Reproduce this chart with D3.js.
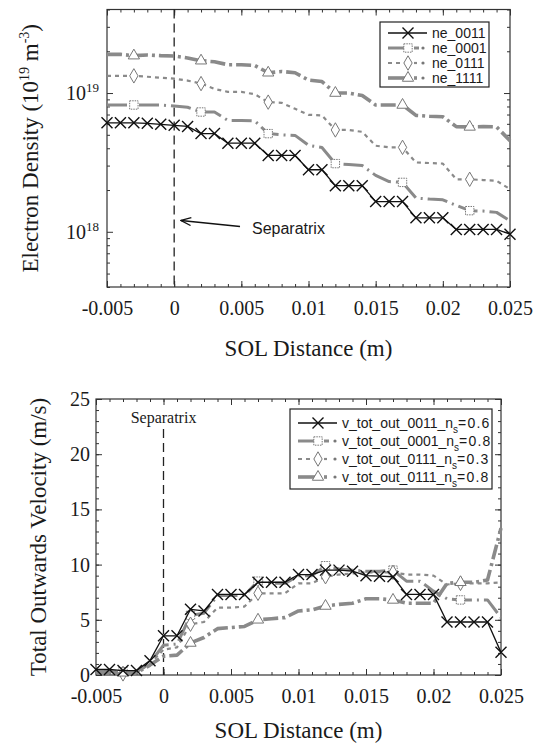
<!DOCTYPE html>
<html>
<head>
<meta charset="utf-8">
<script src="https://cdn.jsdelivr.net/npm/d3@7"></script>
<style>
  body { margin: 0; background: #fff; }
  svg text { fill: #1a1a1a; }
</style>
</head>
<body>
<svg id="fig" width="542" height="743"></svg>
<script>
// ---------------------------------------------------------------------------
// Data (31 radial grid points, 1 mm apart)
// ---------------------------------------------------------------------------
const solDist = [-0.005, -0.004, -0.003, -0.002, -0.001, 0, 0.001, 0.002, 0.003, 0.004,
  0.005, 0.006, 0.007, 0.008, 0.009, 0.010, 0.011, 0.012, 0.013, 0.014, 0.015,
  0.016, 0.017, 0.018, 0.019, 0.020, 0.021, 0.022, 0.023, 0.024, 0.025];

// electron density, m^-3
const ne_0011 = [6.1e18, 6.1e18, 6.1e18, 6.05e18, 5.95e18, 5.85e18, 5.75e18, 5.1e18, 5.1e18,
  4.35e18, 4.35e18, 4.35e18, 3.55e18, 3.55e18, 3.55e18, 2.8e18, 2.8e18, 2.15e18, 2.15e18,
  2.15e18, 1.65e18, 1.65e18, 1.65e18, 1.26e18, 1.26e18, 1.26e18, 1.04e18, 1.04e18, 1.04e18,
  1.04e18, 0.96e18];
const ne_0001 = [8.2e18, 8.2e18, 8.2e18, 8.2e18, 8.2e18, 8.05e18, 7.9e18, 7.3e18, 7.3e18,
  6.35e18, 6.35e18, 6.3e18, 5.1e18, 5.0e18, 4.95e18, 4.2e18, 4.05e18, 3.1e18, 3.05e18, 3.0e18,
  2.55e18, 2.3e18, 2.27e18, 1.75e18, 1.72e18, 1.7e18, 1.55e18, 1.42e18, 1.41e18, 1.38e18, 1.2e18];
const ne_0111 = [13.3e18, 13.3e18, 13.3e18, 13.1e18, 12.9e18, 12.7e18, 12.3e18, 11.7e18, 10.7e18,
  10.2e18, 10.2e18, 9.8e18, 8.6e18, 8.5e18, 7.7e18, 6.97e18, 6.9e18, 5.42e18, 5.42e18, 5.25e18,
  4.17e18, 4.06e18, 4.06e18, 3.16e18, 3.13e18, 3.1e18, 2.39e18, 2.39e18, 2.36e18, 2.33e18, 2.03e18];
const ne_1111 = [19.0e18, 19.0e18, 18.6e18, 18.8e18, 18.6e18, 18.5e18, 17.9e18, 17.1e18, 16.8e18,
  16.0e18, 16.0e18, 15.8e18, 14.0e18, 14.3e18, 14.0e18, 12.4e18, 12.1e18, 10.0e18, 10.0e18, 9.6e18,
  8.2e18, 8.2e18, 8.2e18, 6.9e18, 6.8e18, 6.75e18, 5.73e18, 5.7e18, 5.73e18, 5.7e18, 4.54e18];

// total outwards velocity, m/s
const v_0011 = [0.5, 0.5, 0.4, 0.4, 1.3, 3.55, 3.55, 5.95, 5.8, 7.3, 7.3, 7.3, 8.4, 8.4, 8.4,
  9.1, 9.1, 9.5, 9.5, 9.4, 9.0, 8.95, 8.9, 7.3, 7.3, 7.3, 4.8, 4.8, 4.8, 4.8, 2.05];
const v_0001 = [0.3, 0.3, 0.3, 0.3, 1.1, 2.7, 2.8, 5.4, 5.6, 7.2, 7.2, 7.2, 8.5, 8.3, 8.3,
  9.0, 9.0, 9.9, 9.6, 9.5, 9.4, 9.4, 9.5, 8.5, 8.5, 7.6, 6.9, 6.8, 6.8, 6.8, 5.2];
const v_0111_03 = [0.3, 0.3, 0.1, 0.2, 1.0, 2.3, 2.5, 4.6, 4.8, 6.1, 6.1, 6.2, 7.4, 7.4, 7.4,
  8.3, 8.3, 8.9, 9.1, 9.2, 9.3, 9.3, 9.3, 9.1, 9.1, 9.0, 8.2, 8.3, 8.3, 8.3, 8.4];
const v_0111_08 = [0.2, 0.2, 0.2, 0.2, 0.9, 1.7, 1.8, 2.9, 3.4, 4.2, 4.3, 4.4, 5.0, 5.1, 5.2,
  5.8, 5.9, 6.25, 6.4, 6.5, 6.9, 6.9, 6.8, 6.5, 6.5, 6.5, 8.3, 8.4, 8.4, 8.6, 13.3];

const neNames = ["ne_0011", "ne_0001", "ne_0111", "ne_1111"];
const vNames = ["v_tot_out_0011_n", "v_tot_out_0001_n", "v_tot_out_0111_n", "v_tot_out_0111_n"];
const vNs = ["0.6", "0.8", "0.3", "0.8"];

const xTicks = [-0.005, 0, 0.005, 0.01, 0.015, 0.02, 0.025];
const xTickLabels = ["-0.005", "0", "0.005", "0.01", "0.015", "0.02", "0.025"];
const neTicks = [1e18, 1e19];
const neTickExp = ["18", "19"];
const vTicks = [0, 5, 10, 15, 20, 25];
const vTickLabels = ["0", "5", "10", "15", "20", "25"];

// marker positions on the grey curves (every 5th grid point)
const markIdx = [2, 7, 12, 17, 22, 27];

// ---------------------------------------------------------------------------
const SERIF = "'Liberation Serif','Times New Roman',serif";
const SANS = "'Liberation Sans',Arial,sans-serif";
const GREY = "#8a8a8a";

const STYLES = [
  { color: "#111", width: 1.3, dash: null, marker: "x", every: true },
  { color: GREY, width: 3, dash: "20,5,2,5", marker: "square" },
  { color: GREY, width: 2.2, dash: "4,4", marker: "diamond" },
  { color: GREY, width: 3.6, dash: "15,4,3,4", marker: "triangle" },
];

const svg = d3.select("#fig");
const defs = svg.append("defs");
// open arrow head, tip at the end of the line
defs.append("marker").attr("id", "arrow")
  .attr("viewBox", "0 0 12 10").attr("refX", 11).attr("refY", 5)
  .attr("markerWidth", 12).attr("markerHeight", 10).attr("markerUnits", "userSpaceOnUse")
  .attr("orient", "auto")
  .append("path").attr("d", "M1,1 L11,5 L1,9").attr("fill", "none")
  .attr("stroke", "#111").attr("stroke-width", 1.3);

function symbolPath(kind) {
  if (kind === "x") return "M-5.5,-5.5L5.5,5.5M-5.5,5.5L5.5,-5.5";
  if (kind === "square") return d3.symbol(d3.symbolSquare, 70)();
  if (kind === "diamond") return d3.symbol(d3.symbolDiamond, 60)();
  return d3.symbol(d3.symbolTriangle, 55)();
}

function drawMarker(g, kind, tx, ty) {
  const p = g.append("path").attr("transform", `translate(${tx},${ty})`).attr("d", symbolPath(kind));
  if (kind === "x") p.attr("fill", "none").attr("stroke", "#111").attr("stroke-width", 1.4);
  else p.attr("fill", "#fff").attr("stroke", "#777").attr("stroke-width", 1)
    .attr("stroke-dasharray", kind === "square" ? "1.5,1" : null);
}

function drawSeries(g, x, y, vals, st) {
  const line = d3.line().x((d, i) => x(solDist[i])).y(d => y(d));
  g.append("path").attr("d", line(vals)).attr("fill", "none")
    .attr("stroke", st.color).attr("stroke-width", st.width)
    .attr("stroke-dasharray", st.dash).attr("stroke-linejoin", "round");
  const idx = st.every ? vals.map((_, i) => i) : markIdx;
  idx.forEach(i => drawMarker(g, st.marker, x(solDist[i]), y(vals[i])));
}

function styleAxis(g, font, size) {
  g.select(".domain").remove();
  g.selectAll(".tick line").attr("stroke", "#333").attr("stroke-width", 1);
  g.selectAll("text").attr("font-family", font).attr("font-size", size).attr("fill", "#1a1a1a");
}

function frameAndXAxes(g, box, x) {
  g.append("rect").attr("x", box.x0).attr("y", box.y0)
    .attr("width", box.x1 - box.x0).attr("height", box.y1 - box.y0)
    .attr("fill", "none").attr("stroke", "#333").attr("stroke-width", 1.2);
  const minor = x.ticks(30);
  g.append("g").attr("transform", `translate(0,${box.y1})`)
    .call(d3.axisBottom(x).tickValues(minor).tickFormat("").tickSize(-3)).call(styleAxis, SERIF, 20);
  g.append("g").attr("transform", `translate(0,${box.y0})`)
    .call(d3.axisTop(x).tickValues(minor).tickFormat("").tickSize(-3)).call(styleAxis, SERIF, 20);
  g.append("g").attr("transform", `translate(0,${box.y1})`)
    .call(d3.axisBottom(x).tickValues(xTicks).tickFormat((d, i) => xTickLabels[i])
      .tickSize(-6).tickPadding(14)).call(styleAxis, SERIF, 20);
  g.append("g").attr("transform", `translate(0,${box.y0})`)
    .call(d3.axisTop(x).tickValues(xTicks).tickFormat("").tickSize(-6)).call(styleAxis, SERIF, 20);
}

function yAxes(g, box, y, major, minor, fmt) {
  g.append("g").attr("transform", `translate(${box.x0},0)`)
    .call(d3.axisLeft(y).tickValues(minor).tickFormat("").tickSize(-3)).call(styleAxis, SERIF, 20);
  g.append("g").attr("transform", `translate(${box.x1},0)`)
    .call(d3.axisRight(y).tickValues(minor).tickFormat("").tickSize(-3)).call(styleAxis, SERIF, 20);
  g.append("g").attr("transform", `translate(${box.x0},0)`)
    .call(d3.axisLeft(y).tickValues(major).tickFormat(fmt || "").tickSize(-6).tickPadding(6))
    .call(styleAxis, SERIF, 20);
  g.append("g").attr("transform", `translate(${box.x1},0)`)
    .call(d3.axisRight(y).tickValues(major).tickFormat("").tickSize(-6)).call(styleAxis, SERIF, 20);
}

function xTitle(g, box, yBase) {
  g.append("text").attr("x", (box.x0 + box.x1) / 2).attr("y", yBase)
    .attr("text-anchor", "middle").attr("font-family", SERIF).attr("font-size", 23)
    .text("SOL Distance (m)");
}

function legend(g, lb, rows) {
  g.append("rect").attr("x", lb.x).attr("y", lb.y).attr("width", lb.w).attr("height", lb.h)
    .attr("fill", "#fff").attr("stroke", "#222").attr("stroke-width", 1.2);
  rows.forEach((r, i) => {
    const cy = lb.y + lb.row0 + i * lb.dy;
    const st = STYLES[i];
    const lx0 = lb.x + 8, mx = lb.x + lb.mx;
    if (st.every) {
      g.append("line").attr("x1", lx0).attr("x2", lb.x + lb.lineEnd).attr("y1", cy).attr("y2", cy)
        .attr("stroke", st.color).attr("stroke-width", st.width);
    } else {
      g.append("line").attr("x1", lx0).attr("x2", mx - 2).attr("y1", cy).attr("y2", cy)
        .attr("stroke", st.color).attr("stroke-width", st.width)
        .attr("stroke-dasharray", st.marker === "diamond" ? "4,4" : null);
      g.append("line").attr("x1", mx + 6).attr("x2", mx + 11).attr("y1", cy).attr("y2", cy)
        .attr("stroke", st.color).attr("stroke-width", st.width)
        .attr("stroke-dasharray", st.marker === "square" ? null : "3,3");
      g.append("circle").attr("cx", lb.x + lb.dotX).attr("cy", cy).attr("r", 1.6).attr("fill", "#777");
    }
    drawMarker(g, st.marker, mx, cy);
    const t = g.append("text").attr("x", lb.x + lb.textX).attr("y", cy + 5)
      .attr("font-family", SANS).attr("font-size", 14);
    r(t);
  });
}

// ---------------------------------------------------------------------------
// Top panel: electron density (log)
// ---------------------------------------------------------------------------
const boxA = { x0: 107, x1: 510, y0: 9.5, y1: 287 };
const xA = d3.scaleLinear().domain([-0.005, 0.025]).range([boxA.x0, boxA.x1]);
const yA = d3.scaleLog().domain([4e17, 4e19]).range([boxA.y1, boxA.y0]);
const gA = svg.append("g");

frameAndXAxes(gA, boxA, xA);
yAxes(gA, boxA, yA, neTicks, yA.ticks().filter(v => !neTicks.includes(v)), null);

neTicks.forEach((v, i) => {
  const t = gA.append("text").attr("x", boxA.x0 - 8).attr("y", yA(v) + 7)
    .attr("text-anchor", "end").attr("font-family", SERIF).attr("font-size", 20);
  t.append("tspan").text("10");
  t.append("tspan").attr("dy", -8).attr("font-size", 13).text(neTickExp[i]);
});

// separatrix
gA.append("line").attr("x1", xA(0)).attr("x2", xA(0)).attr("y1", boxA.y0).attr("y2", boxA.y1)
  .attr("stroke", "#222").attr("stroke-width", 1.3).attr("stroke-dasharray", "9,5");
gA.append("line").attr("x1", 240).attr("y1", 226.5).attr("x2", 181).attr("y2", 220.5)
  .attr("stroke", "#111").attr("stroke-width", 1.3).attr("marker-end", "url(#arrow)");
gA.append("text").attr("x", 252).attr("y", 234).attr("font-family", SANS).attr("font-size", 16)
  .text("Separatrix");

[ne_0001, ne_0111, ne_1111].forEach((vals, k) => drawSeries(gA, xA, yA, vals, STYLES[k + 1]));
drawSeries(gA, xA, yA, ne_0011, STYLES[0]);

legend(gA, { x: 380, y: 22, w: 109, h: 65, row0: 11, dy: 15, mx: 28, lineEnd: 47, dotX: 43, textX: 52 },
  neNames.map(n => t => t.text(n)));

xTitle(gA, boxA, 356);
const ylA = gA.append("text").attr("transform", `translate(38,${(boxA.y0 + boxA.y1) / 2}) rotate(-90)`)
  .attr("text-anchor", "middle").attr("font-family", SERIF).attr("font-size", 23);
ylA.append("tspan").text("Electron Density (10");
ylA.append("tspan").attr("dy", -9).attr("font-size", 14).text("19");
ylA.append("tspan").attr("dy", 9).text(" m");
ylA.append("tspan").attr("dy", -9).attr("font-size", 14).text("-3");
ylA.append("tspan").attr("dy", 9).text(")");

// ---------------------------------------------------------------------------
// Bottom panel: total outwards velocity
// ---------------------------------------------------------------------------
const boxB = { x0: 96, x1: 501, y0: 399, y1: 675 };
const xB = d3.scaleLinear().domain([-0.005, 0.025]).range([boxB.x0, boxB.x1]);
const yB = d3.scaleLinear().domain([0, 25]).range([boxB.y1, boxB.y0]);
const gB = svg.append("g");

frameAndXAxes(gB, boxB, xB);
yAxes(gB, boxB, yB, vTicks, yB.ticks(25), (d, i) => vTickLabels[i]);

gB.append("line").attr("x1", xB(0)).attr("x2", xB(0)).attr("y1", 429).attr("y2", boxB.y1)
  .attr("stroke", "#222").attr("stroke-width", 1.3).attr("stroke-dasharray", "9,5");
gB.append("text").attr("x", xB(0)).attr("y", 423).attr("text-anchor", "middle")
  .attr("font-family", SERIF).attr("font-size", 16).text("Separatrix");

[v_0001, v_0111_03, v_0111_08].forEach((vals, k) => drawSeries(gB, xB, yB, vals, STYLES[k + 1]));
drawSeries(gB, xB, yB, v_0011, STYLES[0]);

legend(gB, { x: 290, y: 409, w: 202, h: 80, row0: 14, dy: 18, mx: 28, lineEnd: 47, dotX: 45, textX: 52 },
  vNames.map((n, i) => t => {
    t.append("tspan").text(n);
    t.append("tspan").attr("dy", 5).attr("font-size", 10).text("s");
    t.append("tspan").attr("dy", -5).attr("letter-spacing", 1.2).text("=" + vNs[i]);
  }));

xTitle(gB, boxB, 738);
gB.append("text").attr("transform", `translate(46,${(boxB.y0 + boxB.y1) / 2}) rotate(-90)`)
  .attr("text-anchor", "middle").attr("font-family", SERIF).attr("font-size", 23)
  .text("Total Outwards Velocity (m/s)");
</script>
</body>
</html>
